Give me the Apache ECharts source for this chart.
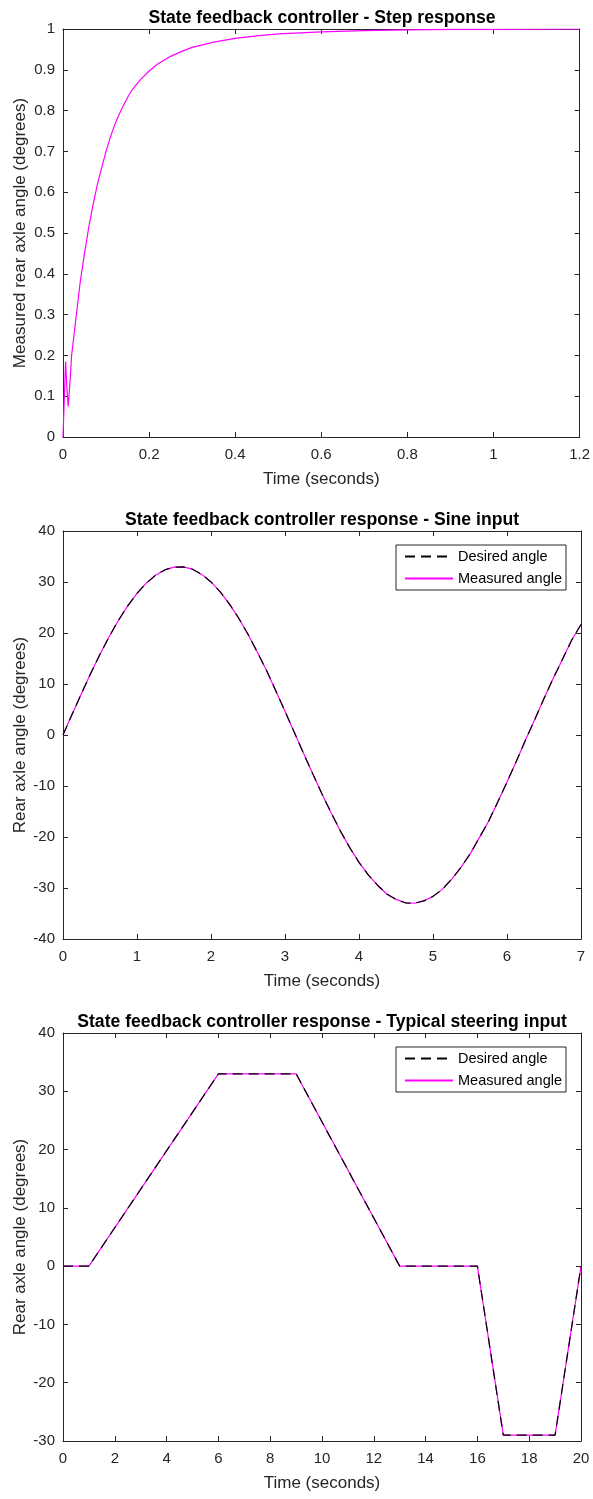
<!DOCTYPE html>
<html><head><meta charset="utf-8">
<script src="https://cdn.jsdelivr.net/npm/echarts@6/dist/echarts.min.js"></script>
<style>html,body{margin:0;padding:0;background:#fff}#c{width:593px;height:1499px}</style>
</head><body><div id="c"></div>
<script>
// ---- Data ----
const titles = [
  'State feedback controller - Step response',
  'State feedback controller response - Sine input',
  'State feedback controller response - Typical steering input'
];
const xAxisName = 'Time (seconds)';
const yAxisNames = ['Measured rear axle angle (degrees)', 'Rear axle angle (degrees)', 'Rear axle angle (degrees)'];
const legendNames = ['Desired angle', 'Measured angle'];

// Plot 1: step response (time s, angle deg)
const stepT = [0,0.006,0.009,0.012,0.016,0.02,0.025,0.03,0.035,0.04,0.05,0.06,0.07,0.08,0.09,0.1,0.11,0.12,0.13,0.14,0.15,0.16,0.18,0.2,0.22,0.25,0.28,0.3,0.35,0.4,0.45,0.5,0.6,0.7,0.8,0.9,1.0,1.2];
const stepY = [0,0.185,0.12,0.075,0.13,0.2,0.245,0.29,0.335,0.38,0.45,0.515,0.57,0.62,0.66,0.7,0.735,0.765,0.79,0.812,0.832,0.85,0.876,0.897,0.914,0.933,0.947,0.955,0.968,0.977,0.983,0.988,0.993,0.996,0.998,0.999,0.999,1.0];

// Plot 2: sine input
const sineT = [0,0.125,0.25,0.375,0.5,0.625,0.75,0.875,1.0,1.125,1.25,1.375,1.5,1.625,1.75,1.875,2.0,2.125,2.25,2.375,2.5,2.625,2.75,2.875,3.0,3.125,3.25,3.375,3.5,3.625,3.75,3.875,4.0,4.125,4.25,4.375,4.5,4.625,4.75,4.875,5.0,5.125,5.25,5.375,5.5,5.625,5.75,5.875,6.0,6.125,6.25,6.375,6.5,6.625,6.75,6.875,7.0];
const sineDesired = [0,4.11,8.16,12.09,15.82,19.31,22.5,25.33,27.77,29.77,31.31,32.37,32.92,32.95,32.52,31.49,30.01,28.07,25.66,22.89,19.75,16.27,12.66,8.7,4.66,0.55,-3.58,-7.62,-11.57,-15.3,-18.87,-22.09,-24.97,-27.43,-29.45,-31.18,-32.23,-32.9,-32.99,-32.54,-31.64,-30.27,-28.32,-26.02,-23.35,-20.17,-16.95,-13.15,-9.22,-5.19,-0.97,3.03,7.14,11.13,14.85,18.62,21.68];
const sineMeasured = [0,4.11,8.16,12.09,15.82,19.31,22.5,25.33,27.77,29.77,31.31,32.37,32.92,32.95,32.52,31.49,30.01,28.07,25.66,22.89,19.75,16.27,12.66,8.7,4.66,0.55,-3.58,-7.62,-11.57,-15.3,-18.87,-22.09,-24.97,-27.43,-29.45,-31.18,-32.23,-32.9,-32.99,-32.54,-31.64,-30.27,-28.32,-26.02,-23.35,-20.17,-16.95,-13.15,-9.22,-5.19,-0.97,3.03,7.14,11.13,14.85,18.62,21.68];

// Plot 3: typical steering input
const steerT = [0,1,6,9,13,16,17,19,20];
const steerDesired = [0,0,33,33,0,0,-29,-29,0];
const steerMeasured = [0,0,33,33,0,0,-29,-29,0];

// Axis ranges / ticks
const xRanges = [[0,1.2,0.2],[0,7,1],[0,20,2]];
const yRanges = [[0,1,0.1],[-40,40,10],[-30,40,10]];

// ---- Chart ----
const FONT = 'Liberation Sans';
const AX = '#262626';
const tops = [29, 531, 1033];
const H = 408, L = 63, W = 518;
const zip = (a,b) => a.map((v,i) => [v,b[i]]);

const grid = tops.map(t => ({left:L, top:t, width:W, height:H, containLabel:false}));
const xAxis = [], yAxis = [];
for (let i=0;i<3;i++){
  const [xmin,xmax,xi] = xRanges[i];
  const [ymin,ymax,yi] = yRanges[i];
  xAxis.push({type:'value', gridIndex:i, min:xmin, max:xmax, interval:xi, position:'bottom',
    name:xAxisName, nameLocation:'middle', nameGap:34, nameMoveOverlap:false,
    nameTextStyle:{fontFamily:FONT, fontSize:17, color:AX},
    axisLine:{onZero:false, lineStyle:{color:AX, width:1}},
    axisTick:{inside:true, length:5, lineStyle:{color:AX}},
    axisLabel:{fontFamily:FONT, fontSize:15, color:AX, margin:10},
    splitLine:{show:false}});
  xAxis.push({type:'value', gridIndex:i, min:xmin, max:xmax, interval:xi, position:'top',
    axisLine:{onZero:false, lineStyle:{color:AX, width:1}},
    axisTick:{inside:true, length:5, lineStyle:{color:AX}},
    axisLabel:{show:false}, splitLine:{show:false}});
  yAxis.push({type:'value', gridIndex:i, min:ymin, max:ymax, interval:yi, position:'left',
    name:yAxisNames[i], nameLocation:'middle', nameGap:34, nameRotate:90, nameMoveOverlap:false,
    nameTextStyle:{fontFamily:FONT, fontSize:17, color:AX},
    axisLine:{onZero:false, lineStyle:{color:AX, width:1}},
    axisTick:{inside:true, length:5, lineStyle:{color:AX}},
    axisLabel:{fontFamily:FONT, fontSize:15, color:AX, margin:8},
    splitLine:{show:false}});
  yAxis.push({type:'value', gridIndex:i, min:ymin, max:ymax, interval:yi, position:'right',
    axisLine:{onZero:false, lineStyle:{color:AX, width:1}},
    axisTick:{inside:true, length:5, lineStyle:{color:AX}},
    axisLabel:{show:false}, splitLine:{show:false}});
}

const title = titles.map((t,i) => ({text:t, left:L+W/2-5, textAlign:'center', top:tops[i]-25,
  textStyle:{fontFamily:FONT, fontSize:17.6, fontWeight:'bold', color:'#000'}}));

const mag = '#ff00ff';
const line = (name, xi, yi, data, color, type, z) => ({name, type:'line', xAxisIndex:xi, yAxisIndex:yi,
  data, symbol:'none', showSymbol:false, animation:false, z,
  lineStyle:{color, width:1.2, type}, itemStyle:{color}});

const series = [
  line('Step', 0, 0, zip(stepT, stepY), mag, 'solid', 2),
  line('Measured angle', 2, 2, zip(sineT, sineMeasured), mag, 'solid', 2),
  line('Desired angle', 2, 2, zip(sineT, sineDesired), '#000', [10,6], 3),
  line('Measured angle', 4, 4, zip(steerT, steerMeasured), mag, 'solid', 2),
  line('Desired angle', 4, 4, zip(steerT, steerDesired), '#000', [10,6], 3)
];

const legend = [tops[1], tops[2]].map(t => ({data:legendNames, orient:'vertical', right:27, top:t+14,
  itemWidth:48, itemHeight:14, itemGap:7, padding:[4,4,4,8], borderColor:AX, borderWidth:1,
  backgroundColor:'#fff', selectedMode:false,
  itemStyle:{opacity:0},
  textStyle:{fontFamily:FONT, fontSize:14.5, color:'#000'}}));

const chart = echarts.init(document.getElementById('c'), null, {renderer:'canvas'});
chart.setOption({animation:false, title, grid, xAxis, yAxis, legend, series});
</script></body></html>
